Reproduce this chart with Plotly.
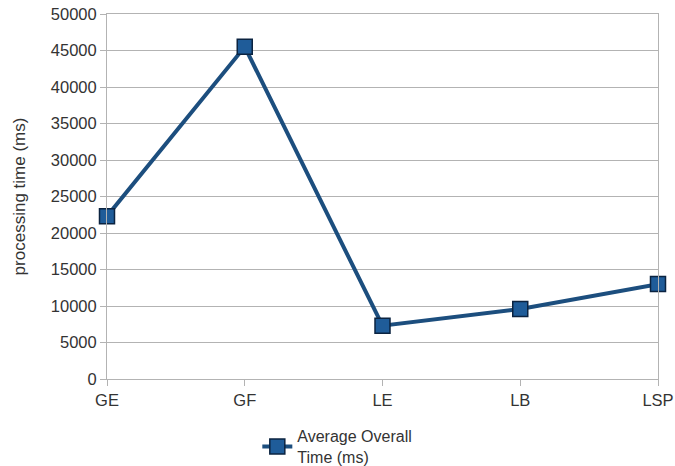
import plotly.graph_objects as go

categories = ["GE", "GF", "LE", "LB", "LSP"]
avg_time = [22300, 45500, 7300, 9600, 13000]
y_ticks = list(range(0, 50001, 5000))
y_tick_labels = [str(v) for v in y_ticks]

fig = go.Figure()
fig.add_trace(go.Scatter(
    x=categories, y=avg_time, mode="lines+markers",
    name="Average Overall<br>Time (ms)",
    line=dict(color="#1c4e7e", width=4),
    marker=dict(symbol="square", size=15, color="#1f5c99",
                line=dict(color="#0b2340", width=1.5)),
    cliponaxis=False,
))

fig.update_layout(
    width=675, height=466,
    margin=dict(l=107, r=17, t=14, b=87, autoexpand=False),
    paper_bgcolor="white", plot_bgcolor="white",
    font=dict(family="Liberation Sans, Arial, sans-serif", size=16, color="#333333"),
    showlegend=True,
    legend=dict(orientation="h", x=0.418, xanchor="center", y=-0.11, yanchor="top",
                font=dict(size=16, color="#333333"), itemwidth=30),
)
fig.update_xaxes(
    range=[0, 4], showgrid=False, showline=True, linecolor="#b3b3b3", linewidth=1,
    ticks="outside", ticklen=6, tickcolor="#b3b3b3", mirror=True, zeroline=False,
    tickfont=dict(size=16.5),
)
fig.update_yaxes(
    range=[0, 50000], tickvals=y_ticks, ticktext=y_tick_labels,
    showgrid=True, gridcolor="#b3b3b3", gridwidth=1,
    showline=True, linecolor="#b3b3b3", mirror=True, ticks="outside", ticklen=6,
    tickcolor="#b3b3b3", zeroline=False, tickfont=dict(size=16.5),
    title=dict(text="processing time (ms)", standoff=20, font=dict(size=17)),
)
fig.write_html("out.html", config={"displayModeBar": False},
               post_script="document.body.style.margin='0px';")
